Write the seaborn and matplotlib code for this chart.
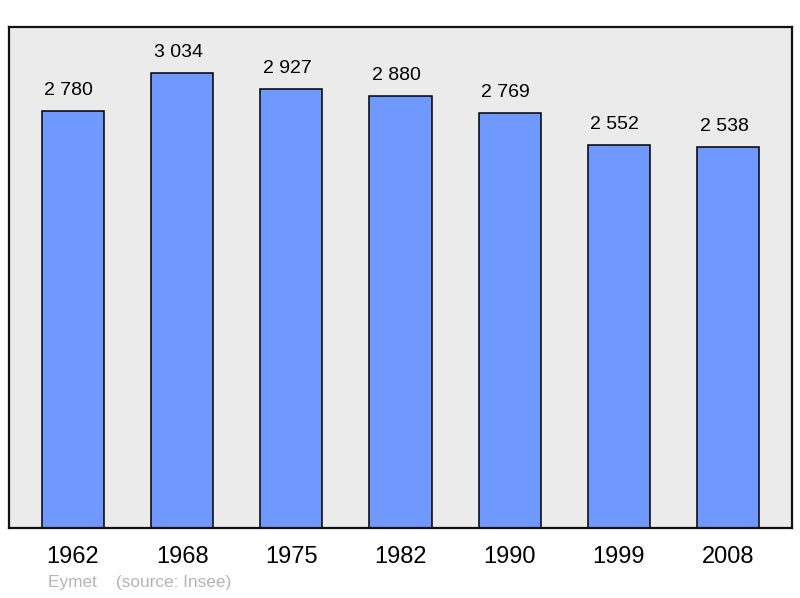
import matplotlib
matplotlib.use('Agg')
import matplotlib.pyplot as plt
import seaborn as sns
import pandas as pd

years = ['1962', '1968', '1975', '1982', '1990', '1999', '2008']
population = [2780, 3034, 2927, 2880, 2769, 2552, 2538]

sns.set_style('white')
plt.rcParams['font.family'] = ['Liberation Sans', 'DejaVu Sans']
plt.rcParams['text.color'] = 'black'
plt.rcParams['xtick.color'] = 'black'

df = pd.DataFrame({'year': years, 'pop': population})

fig = plt.figure(figsize=(8, 5.98), dpi=100)
ax = fig.add_axes([9 / 800, 70 / 598, 783 / 800, 501 / 598])
ax.set_facecolor('#ebebeb')

sns.barplot(data=df, x='year', y='pop', ax=ax, color='#7099ff', saturation=1,
            width=0.57, edgecolor='black', linewidth=1.1)

ax.set_xlim(-0.585, 6.585)
ax.set_ylim(0, 3340)
ax.set_yticks([])
ax.set_xlabel('')
ax.set_ylabel('')
ax.tick_params(axis='x', length=0, labelsize=17, pad=13, labelcolor='black')
for s in ax.spines.values():
    s.set_visible(True)
    s.set_linewidth(1.6)
    s.set_color('#111111')

for i, v in enumerate(population):
    label = f'{v:,}'.replace(',', ' ')
    ax.annotate(label, (i, v), xytext=(-4, 12), textcoords='offset pixels',
                ha='center', va='bottom', fontsize=14, color='black')

fig.text(48 / 800, 1 - 583 / 598, 'Eymet    (source: Insee)', color='#b4b4b4',
         fontsize=12.4, va='center', ha='left')

fig.savefig('out.png', dpi=100)
